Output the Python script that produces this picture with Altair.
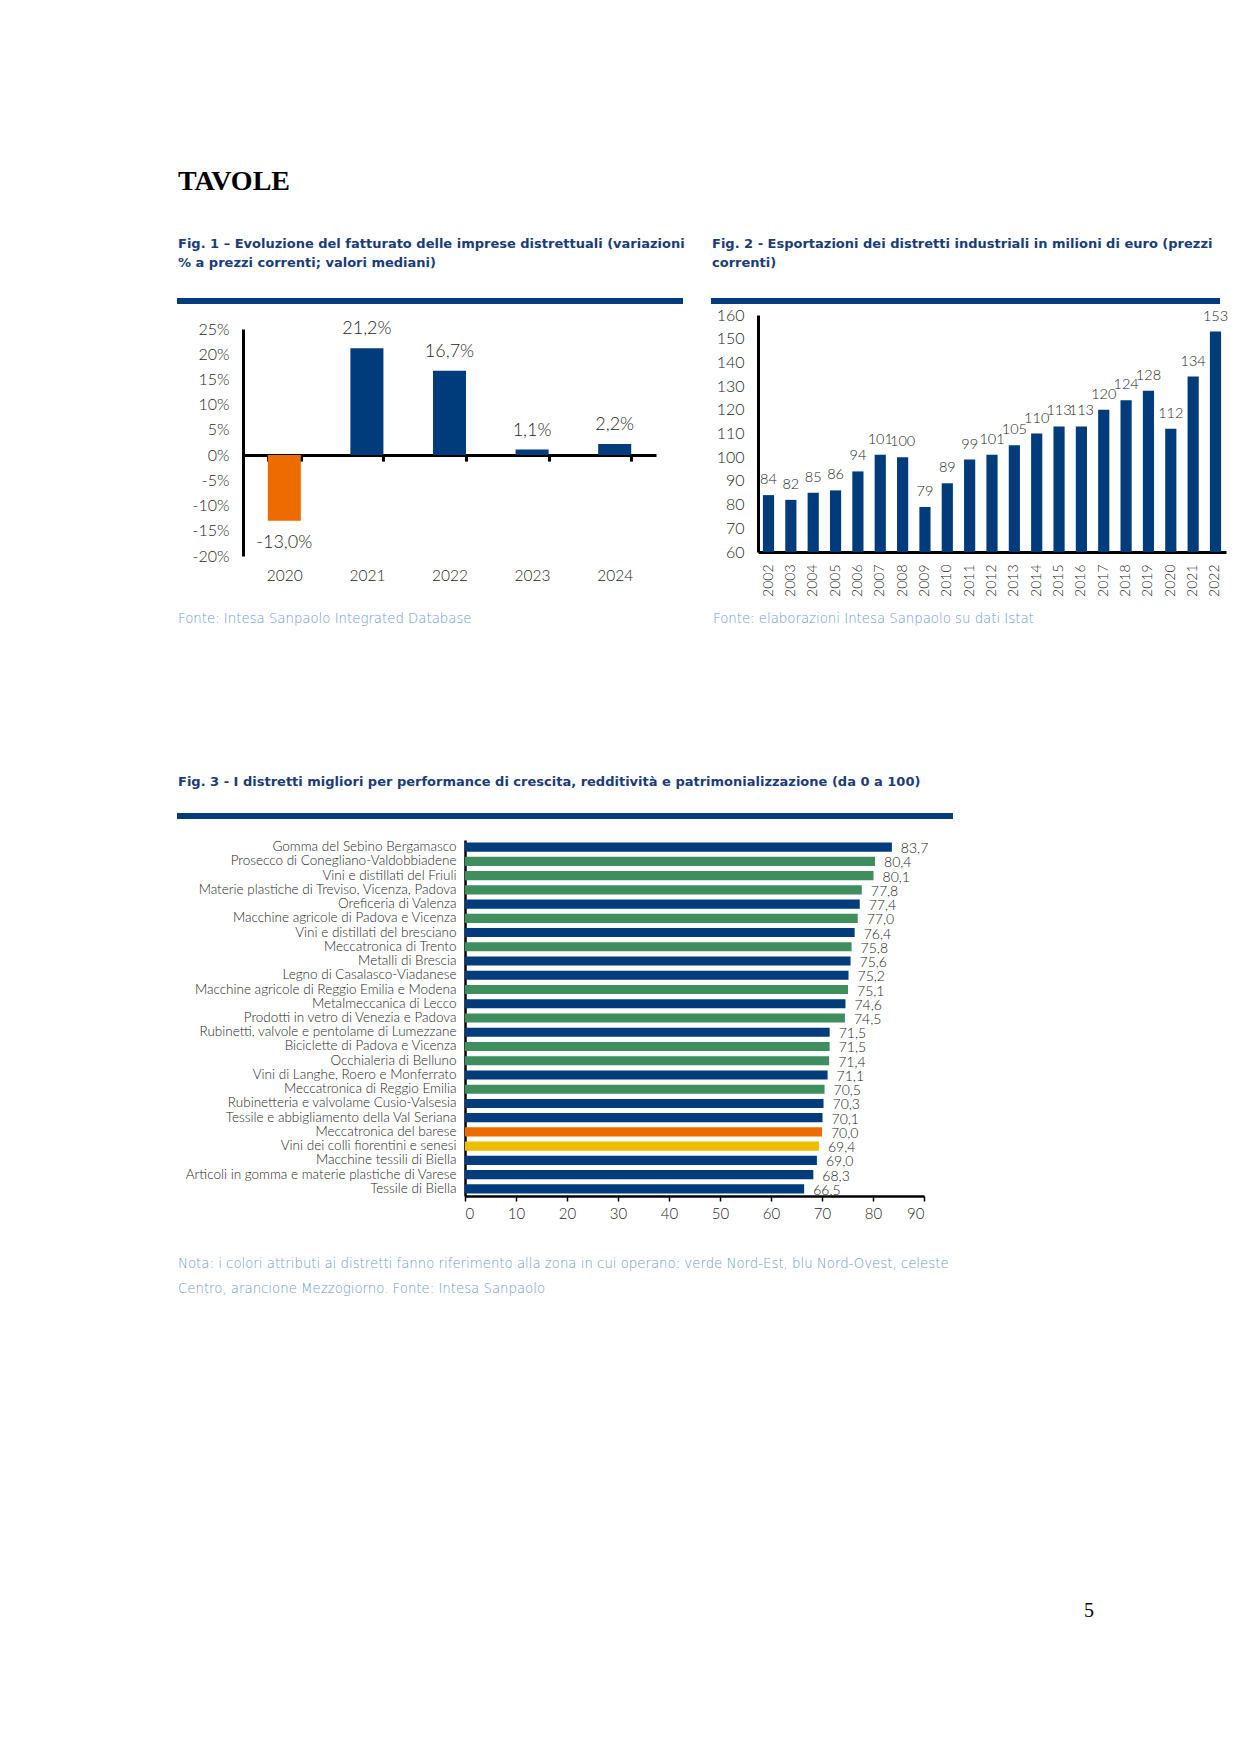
import altair as alt
import pandas as pd

# ---------------- data ----------------
fig1_anni = ["2020", "2021", "2022", "2023", "2024"]
fig1_valori = [-13.0, 21.2, 16.7, 1.1, 2.2]
fig1_ticks = [25, 20, 15, 10, 5, 0, -5, -10, -15, -20]

fig2_anni = ["2002", "2003", "2004", "2005", "2006", "2007", "2008", "2009", "2010",
             "2011", "2012", "2013", "2014", "2015", "2016", "2017", "2018", "2019",
             "2020", "2021", "2022"]
fig2_valori = [84, 82, 85, 86, 94, 101, 100, 79, 89, 99, 101, 105, 110, 113, 113,
               120, 124, 128, 112, 134, 153]
fig2_ticks = [60, 70, 80, 90, 100, 110, 120, 130, 140, 150, 160]

fig3_distretti = [
    "Gomma del Sebino Bergamasco",
    "Prosecco di Conegliano-Valdobbiadene",
    "Vini e distillati del Friuli",
    "Materie plastiche di Treviso, Vicenza, Padova",
    "Oreficeria di Valenza",
    "Macchine agricole di Padova e Vicenza",
    "Vini e distillati del bresciano",
    "Meccatronica di Trento",
    "Metalli di Brescia",
    "Legno di Casalasco-Viadanese",
    "Macchine agricole di Reggio Emilia e Modena",
    "Metalmeccanica di Lecco",
    "Prodotti in vetro di Venezia e Padova",
    "Rubinetti, valvole e pentolame di Lumezzane",
    "Biciclette di Padova e Vicenza",
    "Occhialeria di Belluno",
    "Vini di Langhe, Roero e Monferrato",
    "Meccatronica di Reggio Emilia",
    "Rubinetteria e valvolame Cusio-Valsesia",
    "Tessile e abbigliamento della Val Seriana",
    "Meccatronica del barese",
    "Vini dei colli fiorentini e senesi",
    "Macchine tessili di Biella",
    "Articoli in gomma e materie plastiche di Varese",
    "Tessile di Biella",
]
fig3_valori = [83.7, 80.4, 80.1, 77.8, 77.4, 77.0, 76.4, 75.8, 75.6, 75.2, 75.1, 74.6,
               74.5, 71.5, 71.5, 71.4, 71.1, 70.5, 70.3, 70.1, 70.0, 69.4, 69.0, 68.3, 66.5]
fig3_zone = ["Nord-Ovest", "Nord-Est", "Nord-Est", "Nord-Est", "Nord-Ovest", "Nord-Est",
             "Nord-Ovest", "Nord-Est", "Nord-Ovest", "Nord-Ovest", "Nord-Est", "Nord-Ovest",
             "Nord-Est", "Nord-Ovest", "Nord-Est", "Nord-Est", "Nord-Ovest", "Nord-Est",
             "Nord-Ovest", "Nord-Ovest", "Mezzogiorno", "Centro", "Nord-Ovest",
             "Nord-Ovest", "Nord-Ovest"]
fig3_ticks = [0, 10, 20, 30, 40, 50, 60, 70, 80, 90]

# ---------------- style ----------------
NAVY = "#003B7B"
GREEN = "#3F8E5E"
ORANGE = "#EE6B00"
YELLOW = "#EDBD00"
TITLE_BLUE = "#1A3C78"
NOTE_BLUE = "#6F9AD2"
TEXT = "#262626"
SANS = "Lato"
WIDE = "DejaVu Sans"
SERIF = "Liberation Serif"

zone_nomi = ["Nord-Ovest", "Nord-Est", "Centro", "Mezzogiorno"]
zone_colori = [NAVY, GREEN, YELLOW, ORANGE]

W, H = 1224, 1738


def px(v):
    """page pixel -> chart pixel (8px page margin, no padding)"""
    return v - 8


def lerp(dom, rng, v):
    return rng[0] + (v - dom[0]) / (dom[1] - dom[0]) * (rng[1] - rng[0])


ax_common = dict(title=None, grid=False, domainColor="black", labelFont=SANS,
                 labelColor=TEXT, labelFontWeight=300)

# ---------------- Fig. 1 ----------------
f1 = pd.DataFrame({"anno": fig1_anni, "valore": fig1_valori})
y1_dom = [-20, 25]
y1_rng = [px(556), px(329)]
zero1 = lerp(y1_dom, y1_rng, 0)

x1 = alt.X("anno:N",
           scale=alt.Scale(domain=fig1_anni, range=[px(243), px(656)],
                           paddingInner=0.6, paddingOuter=0.3),
           axis=alt.Axis(orient="bottom", offset=zero1 - H, domainWidth=3,
                         ticks=True, tickBand="extent", tickColor="black",
                         tickWidth=3, tickSize=6, labelPadding=107, labelAngle=0,
                         labelFontSize=15.5, **ax_common))
y1 = alt.Y("valore:Q",
           scale=alt.Scale(domain=y1_dom, range=y1_rng, nice=False),
           axis=alt.Axis(orient="left", offset=-px(243), values=fig1_ticks,
                         labelExpr="datum.value + '%'", domainWidth=3, ticks=False,
                         labelPadding=14, labelFontSize=16, **ax_common))

base1 = alt.Chart(f1).transform_calculate(
    etichetta="(datum.valore < 0 ? '-' : '') + "
              "replace(format(abs(datum.valore), '.1f'), '.', ',') + '%'"
).encode(x=x1, y=y1)
bars1 = base1.mark_bar().encode(
    color=alt.when(alt.datum.valore < 0).then(alt.value(ORANGE)).otherwise(alt.value(NAVY))
)
lab1p = base1.transform_filter("datum.valore >= 0").mark_text(
    dy=-19, fontSize=18, font=SANS, fontWeight=300, color=TEXT).encode(text="etichetta:N")
lab1n = base1.transform_filter("datum.valore < 0").mark_text(
    dy=22, fontSize=18, font=SANS, fontWeight=300, color=TEXT).encode(text="etichetta:N")
fig1 = alt.layer(bars1, lab1p, lab1n)

# ---------------- Fig. 2 ----------------
f2 = pd.DataFrame({"anno": fig2_anni, "valore": fig2_valori})
x2 = alt.X("anno:N",
           scale=alt.Scale(domain=fig2_anni, range=[px(758), px(1226)],
                           paddingInner=0.5, paddingOuter=0.22),
           axis=alt.Axis(orient="bottom", offset=px(552) - H, domainWidth=3,
                         ticks=False, labelAngle=-90, labelPadding=12,
                         labelFontSize=14, **ax_common))
y2 = alt.Y("valore:Q",
           scale=alt.Scale(domain=[60, 160], range=[px(552), px(315)], nice=False, zero=False),
           axis=alt.Axis(orient="left", offset=-px(758), values=fig2_ticks,
                         domainWidth=3, ticks=False, labelPadding=14,
                         labelFontSize=16, **ax_common))
base2 = alt.Chart(f2).encode(x=x2, y=y2)
bars2 = base2.mark_bar(color=NAVY).encode(y2=alt.datum(60))
lab2 = base2.mark_text(dy=-15, fontSize=14.5, font=SANS, fontWeight=300,
                       color=TEXT).encode(text="valore:Q")
fig2 = alt.layer(bars2, lab2)

# ---------------- Fig. 3 ----------------
f3 = pd.DataFrame({"distretto": fig3_distretti, "valore": fig3_valori, "zona": fig3_zone})
y3 = alt.Y("distretto:N",
           scale=alt.Scale(domain=fig3_distretti, range=[px(840), px(1196)],
                           paddingInner=0.36, paddingOuter=0.18),
           axis=alt.Axis(orient="left", offset=-px(465), domainWidth=2.5, ticks=False,
                         labelPadding=9, labelFontSize=13.5, labelLimit=400, **ax_common))
x3 = alt.X("valore:Q",
           scale=alt.Scale(domain=[0, 90], range=[px(465), px(924)], nice=False),
           axis=alt.Axis(orient="bottom", offset=px(1196) - H, values=fig3_ticks,
                         domainWidth=2.5, ticks=True, tickColor="black", tickWidth=1.5,
                         tickSize=5, labelPadding=5, labelFontSize=15, **ax_common))
base3 = alt.Chart(f3).transform_calculate(
    etichetta="replace(format(datum.valore, '.1f'), '.', ',')"
).encode(x=x3, y=y3)
bars3 = base3.mark_bar().encode(
    color=alt.Color("zona:N", scale=alt.Scale(domain=zone_nomi, range=zone_colori), legend=None)
)
lab3 = base3.mark_text(align="left", dx=9, dy=2, fontSize=14, font=SANS,
                       fontWeight=300, color=TEXT).encode(text="etichetta:N")
fig3 = alt.layer(bars3, lab3)

# ---------------- page decorations ----------------
dummy = pd.DataFrame({"k": [0]})


def testo(t, x, y, size, color, font=WIDE, weight="normal", baseline="alphabetic",
          align="left", line_height=None):
    kw = dict(text=t, font=font, fontSize=size, color=color, fontWeight=weight,
              align=align, baseline=baseline)
    if line_height is not None:
        kw["lineHeight"] = line_height
    return alt.Chart(dummy).mark_text(**kw).encode(x=alt.value(px(x)), y=alt.value(px(y)))


def barra(xa, xb, ya, yb, color):
    return alt.Chart(dummy).mark_rect(color=color).encode(
        x=alt.value(px(xa)), x2=alt.value(px(xb)), y=alt.value(px(ya)), y2=alt.value(px(yb)))


deco = [
    testo("TAVOLE", 178, 190, 28, "black", font=SERIF, weight="bold"),
    testo(["Fig. 1 – Evoluzione del fatturato delle imprese distrettuali (variazioni",
           "% a prezzi correnti; valori mediani)"], 178, 248, 13, TITLE_BLUE,
          weight="bold", line_height=19),
    testo(["Fig. 2 - Esportazioni dei distretti industriali in milioni di euro (prezzi",
           "correnti)"], 712, 248, 13, TITLE_BLUE, weight="bold", line_height=19),
    barra(177, 683, 298, 304, NAVY),
    barra(711, 1220, 298, 304, NAVY),
    testo("Fonte: Intesa Sanpaolo Integrated Database", 178, 623, 13.3, NOTE_BLUE, weight=200),
    testo("Fonte: elaborazioni Intesa Sanpaolo su dati Istat", 713, 623, 13.3, NOTE_BLUE, weight=200),
    testo("Fig. 3 - I distretti migliori per performance di crescita, redditività e "
          "patrimonializzazione (da 0 a 100)", 178, 786, 13, TITLE_BLUE, weight="bold"),
    barra(177, 953, 813, 819, NAVY),
    testo(["Nota: i colori attributi ai distretti fanno riferimento alla zona in cui operano: "
           "verde Nord-Est, blu Nord-Ovest, celeste",
           "Centro, arancione Mezzogiorno. Fonte: Intesa Sanpaolo"], 178, 1268, 13.3,
          NOTE_BLUE, weight=200, line_height=25),
    testo("5", 1089, 1611, 20, "black", font=SERIF, baseline="middle", align="center"),
]

chart = alt.layer(fig1, fig2, fig3, *deco).resolve_scale(
    x="independent", y="independent", color="independent"
).resolve_axis(
    x="independent", y="independent"
).properties(
    width=W, height=H, padding=0
).configure_view(strokeWidth=0).configure_axis(grid=False)

chart.save("out.html", embed_options={"renderer": "svg", "actions": False})
